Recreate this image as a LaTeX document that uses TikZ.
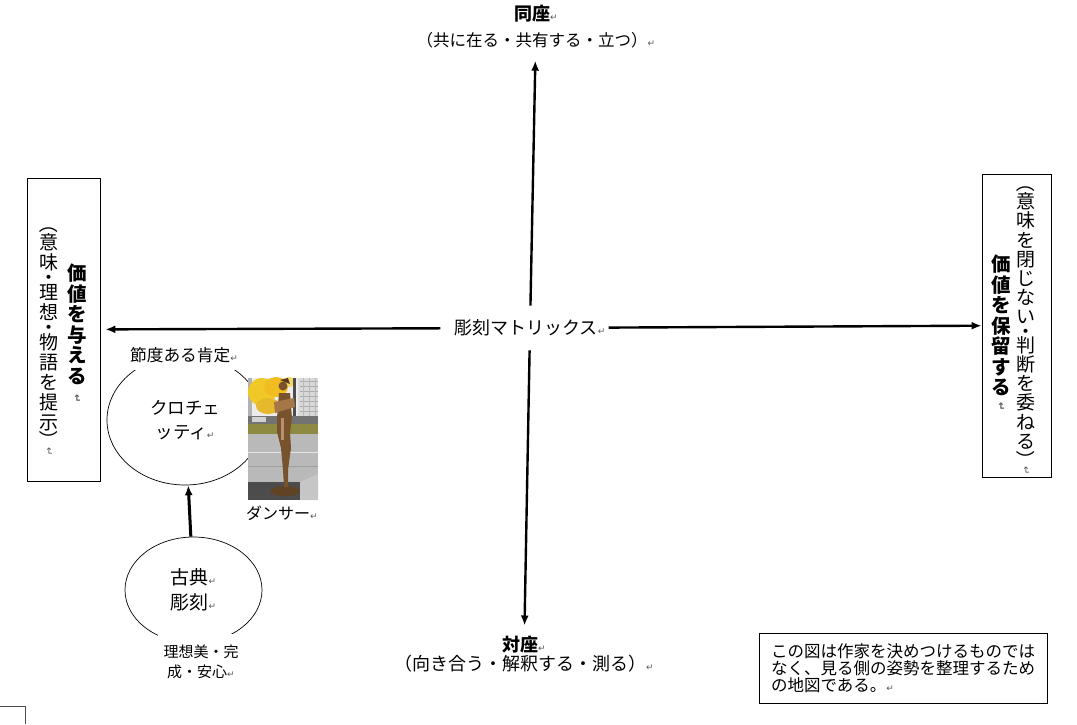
\documentclass[tikz,border=0pt]{standalone}
\usepackage{fontspec}
\usepackage{graphicx}
\setmainfont{Noto Sans CJK JP}
\newfontfamily\retfont{DejaVu Sans}
\usetikzlibrary{arrows.meta,shapes}

\newcommand{\ret}{{\retfont\fontsize{9}{9}\selectfont\color{black!65}↵}}
\newcommand{\tret}{\rotatebox{-90}{{\retfont\fontsize{10}{10}\selectfont\color{black!65}↵}}}
\newcommand{\topen}{\raisebox{1.1em}[0.8em][0.1em]{\rotatebox{-90}{（}}}
\newcommand{\tclose}{\raisebox{0.655em}[0.8em][0.1em]{\rotatebox{-90}{）}}}

\definecolor{bronze}{RGB}{120,82,45}
\definecolor{bronzelit}{RGB}{165,118,70}
\definecolor{ginkgo}{RGB}{240,200,40}

\tikzset{
  lbl/.style={align=center, inner sep=2pt, font=\fontsize{18}{24}\selectfont},
  tate/.style={align=center, inner sep=0pt, anchor=north, font=\fontsize{19}{20}\selectfont},
  boldtate/.style={tate, font=\bfseries\fontsize{19.5}{20.5}\selectfont},
  oval/.style={draw, ellipse, line width=0.7pt, align=center, inner sep=0pt},
  boxframe/.style={draw, line width=0.8pt},
  axisline/.style={->, line width=2.4pt},
}

\begin{document}
\begin{tikzpicture}[x=1pt, y=-1pt, >={Latex[length=10pt,width=8pt]}]
\useasboundingbox (0,0) rectangle (1077,724);

% axis labels
\node[lbl, font=\fontsize{16.5}{26}\selectfont] (together) at (536,27) {{\bfseries\fontsize{18}{26}\selectfont 同座}\ret\\（共に在る・共有する・立つ）\ret};
\node[lbl, font=\fontsize{18}{20}\selectfont, inner xsep=3pt, inner ysep=14pt] (matrix) at (530,328) {彫刻マトリックス\ret};
\node[lbl, font=\fontsize{18}{19.5}\selectfont] (opposite) at (524,654) {{\bfseries 対座}\ret\\（向き合う・解釈する・測る）\ret};

% left box
\node[boxframe, minimum width=73, minimum height=303] (givebox) at (63.5,329.5) {};
\node[boldtate] (givemain) at (77,264) {価\\値\\を\\与\\え\\る\\[-9pt]\tret};
\node[tate] (givenote) at (49,220) {\topen\\[-6pt]意\\味\\[-5pt]・\\[-5pt]理\\想\\[-5pt]・\\[-5pt]物\\語\\を\\提\\示\\[-6pt]\tclose\\[-16pt]\tret};

% right box
\node[boxframe, minimum width=69, minimum height=303] (holdbox) at (1016.5,325.5) {};
\node[tate, font=\fontsize{19}{19.2}\selectfont] (holdnote) at (1026,179) {\topen\\[-5pt]意\\味\\を\\閉\\じ\\な\\い\\[-5pt]・\\[-5pt]判\\断\\を\\委\\ね\\る\\[-4pt]\tclose\\[-16pt]\tret};
\node[boldtate] (holdmain) at (1001,255) {価\\値\\を\\保\\留\\す\\る\\[-13pt]\tret};

% axes
\draw[axisline, shorten >=10pt] (matrix) -- (together);
\draw[axisline, shorten >=8pt] (matrix) -- (opposite);
\draw[axisline, shorten <=11pt, shorten >=5pt] (matrix) -- (givebox);
\draw[axisline] (matrix) -- (holdbox);

% sculptures
\node[oval, minimum width=156, minimum height=130, font=\fontsize{17.5}{24}\selectfont] (croce) at (185,420) {クロチェ\\ッティ\ret};
\node[oval, minimum width=137, minimum height=106, font=\fontsize{19}{25}\selectfont] (classic) at (193.5,590) {古典\ret\\彫刻\ret};
\draw[->, line width=3pt] (classic) -- (croce);
\node[lbl, fill=white, font=\fontsize{16.7}{20}\selectfont, inner xsep=3pt, inner ysep=7pt] (modest) at (184,355) {節度ある肯定\ret};
\node[lbl, fill=white, font=\fontsize{15}{20}\selectfont, inner xsep=6pt, inner ysep=11pt] (ideal) at (201,662) {理想美・完\\成・安心\ret};

% photo
\node[inner sep=0pt, minimum width=70, minimum height=122] (photo) at (283,439) {};
\begin{scope}
  \clip (photo.north west) rectangle (photo.south east);
  \fill[gray!15] (photo.north west) rectangle (photo.south east);
  % buildings
  \fill[gray!30] (298,378) rectangle (318,422);
  \foreach \wy in {381,386,...,416}
    \draw[gray!65, line width=0.7pt] (300,\wy) -- (318,\wy);
  \foreach \wx in {303,309,315}
    \draw[gray!55, line width=0.6pt] (\wx,378) -- (\wx,420);
  \fill[gray!60] (248,378) rectangle (252,420);
  % ginkgo tree
  \fill[ginkgo] (262,392) ellipse (14 and 14);
  \fill[ginkgo!85!orange] (276,387) ellipse (12 and 10);
  \fill[ginkgo!80!brown] (268,406) ellipse (12 and 8);
  \fill[ginkgo!70!white] (289,382) ellipse (6 and 5);
  \fill[black!70] (293,378) rectangle (296,424);
  % street
  \fill[black!55] (248,416) rectangle (318,424);
  \fill[gray!35] (252,417) rectangle (266,422);
  \fill[olive!55!gray] (248,424) rectangle (318,434);
  \fill[gray!55] (248,434) rectangle (318,500);
  \draw[gray!20, line width=1pt] (248,452) -- (318,452);
  \draw[gray!75, line width=1pt] (248,466) -- (318,466);
  % base
  \fill[black!70] (248,482) rectangle (318,500);
  \fill[gray!45] (300,482) -- (318,474) -- (318,500) -- (300,500) -- cycle;
  \fill[bronze!80!black] (285,491) ellipse (15 and 5);
  % dancer
  \fill[bronze] (283,386) circle (4.5);
  \fill[bronze!70!black] (280,380) -- (288,378) -- (290,384) -- cycle;
  \fill[bronze] (279,393) -- (290,393) -- (292,418) -- (290,432) -- (291,448) -- (288,470) -- (288,487) -- (284,487) -- (283,470) -- (281,448) -- (277,432) -- (277,418) -- cycle;
  \fill[bronzelit] (274,402) -- (294,398) -- (295,407) -- (275,413) -- cycle;
  \fill[bronzelit!80!white] (281,418) rectangle (284,440);
\end{scope}
\node[lbl, font=\fontsize{16}{18}\selectfont] (dancer) at (282,513) {ダンサー\ret};

% note
\node[boxframe, align=left, minimum width=288, minimum height=70, font=\fontsize{16.5}{16.8}\selectfont] (note) at (903,668) {この図は作家を決めつけるものでは\\なく、見る側の姿勢を整理するため\\の地図である。\ret};

% page corner
\draw[black!70, line width=0.7pt] (0,706) -- (25,706) -- (25,724);
\end{tikzpicture}
\end{document}
